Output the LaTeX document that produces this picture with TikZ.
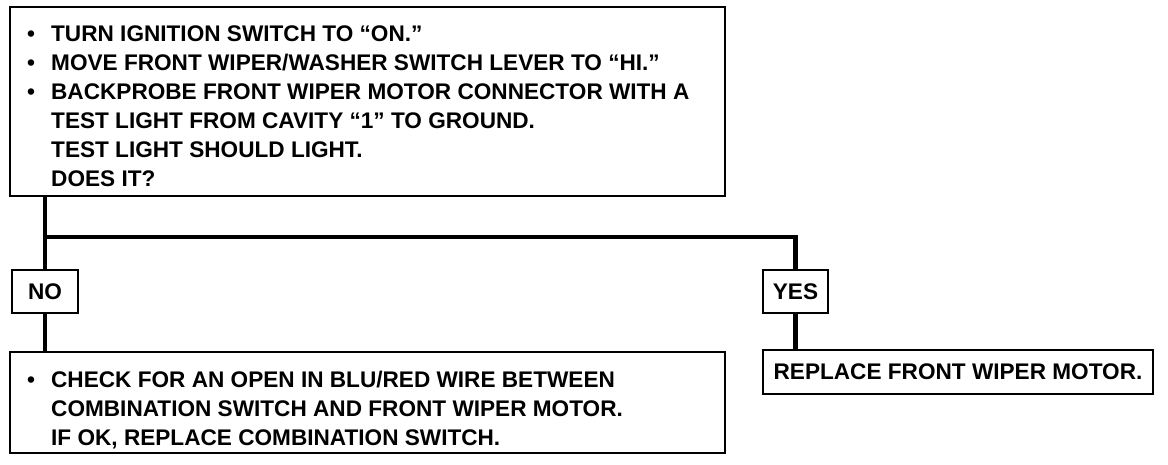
\documentclass[tikz,border=0pt]{standalone}
\usepackage{fontspec}
\setmainfont{Liberation Sans}
\begin{document}
\begin{tikzpicture}[x=1pt,y=-1pt,
  box/.style={draw,rectangle,line width=2.6pt,inner sep=0pt,font=\bfseries\fontsize{22.6}{26}\selectfont},
  txt/.style={anchor=base west,inner sep=0pt,font=\bfseries\fontsize{22.6}{26}\selectfont},
  wire/.style={line width=4.2pt,line join=miter}]
\useasboundingbox (0,0) rectangle (1168,464);
% boxes
\node[box,minimum width=715pt,minimum height=189pt] (top) at (367.5,101.5) {};
\node[box,minimum width=66pt,minimum height=43pt] (no) at (45,291.5) {NO};
\node[box,minimum width=65pt,minimum height=43pt] (yes) at (795.5,291.5) {YES};
\node[box,minimum width=715pt,minimum height=101pt] (chk) at (367.5,402.5) {};
\node[box,minimum width=390pt,minimum height=44pt] (rep) at (958,372) {REPLACE FRONT WIPER MOTOR.};
% top box text
\node[txt] (t1) at (27,41) {\makebox[24pt][l]{•}TURN IGNITION SWITCH TO “ON.”};
\node[txt] (t2) at (27,70) {\makebox[24pt][l]{•}MOVE FRONT WIPER/WASHER SWITCH LEVER TO “HI.”};
\node[txt] (t3) at (27,99) {\makebox[24pt][l]{•}BACKPROBE FRONT WIPER MOTOR CONNECTOR WITH A};
\node[txt] (t4) at (51,128) {TEST LIGHT FROM CAVITY “1” TO GROUND.};
\node[txt] (t5) at (51,157) {TEST LIGHT SHOULD LIGHT.};
\node[txt] (t6) at (51,186) {DOES IT?};
% bottom box text
\node[txt] (c1) at (27,387) {\makebox[24pt][l]{•}CHECK FOR AN OPEN IN BLU/RED WIRE BETWEEN};
\node[txt] (c2) at (51,416) {COMBINATION SWITCH AND FRONT WIPER MOTOR.};
\node[txt] (c3) at (51,445) {IF OK, REPLACE COMBINATION SWITCH.};
% connectors
\coordinate (j) at (45,237);
\draw[wire] (top.south -| no.north) -- (no.north);
\draw[wire] (j) -| (yes.north);
\draw[wire] (no.south) -- (chk.north -| no.south);
\draw[wire] (yes.south) -- (rep.north -| yes.south);
\end{tikzpicture}
\end{document}
